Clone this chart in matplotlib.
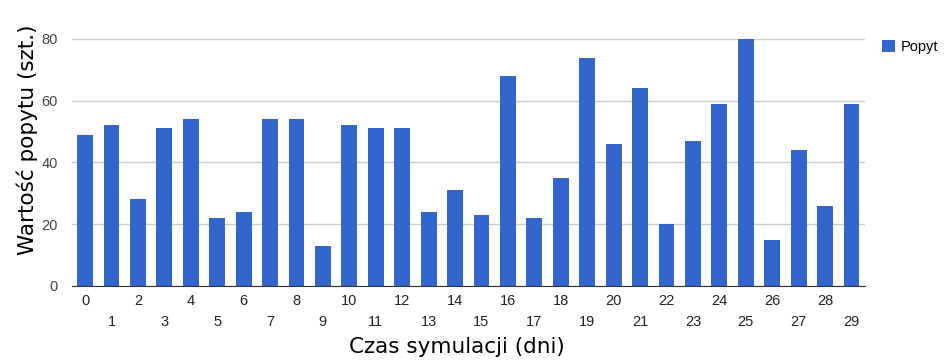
import matplotlib.pyplot as plt
import numpy as np

# dane: popyt w kolejnych dniach symulacji
days = list(range(30))
popyt = [49, 52, 28, 51, 54, 22, 24, 54, 54, 13,
         52, 51, 51, 24, 31, 23, 68, 22, 35, 74,
         46, 64, 20, 47, 59, 80, 15, 44, 26, 59]
yticks = [0, 20, 40, 60, 80]

fig = plt.figure(figsize=(9.46, 3.61), dpi=100)
ax = fig.add_axes([0.076, 0.208, 0.838, 0.684])

ax.bar(days, popyt, width=0.6, color='#3366cc', zorder=2, label='Popyt')
ax.set_xlim(-0.5, 29.5)
ax.set_ylim(0, 80)
ax.set_yticks(yticks)
ax.grid(axis='y', color='#cccccc', lw=1, zorder=0)
for s in ['top', 'right', 'left']:
    ax.spines[s].set_visible(False)
ax.spines['bottom'].set_color('#333333')
ax.tick_params(axis='y', length=0, pad=10, labelsize=10.5, labelcolor='#444444')
ax.set_xticks(days)
ax.set_xticklabels([str(d) if d % 2 == 0 else '\n' + str(d) for d in days])
ax.tick_params(axis='x', length=0, pad=6, labelsize=10.5, labelcolor='#222222')
for lbl in ax.get_xticklabels() + ax.get_yticklabels():
    lbl.set_family('Liberation Sans')
    lbl.set_linespacing(1.6)

ax.set_ylabel('Wartość popytu (szt.)', fontsize=15.5)
ax.yaxis.set_label_coords(-0.043, 0.59)
ax.set_xlabel('Czas symulacji (dni)', fontsize=15.5)
ax.xaxis.set_label_coords(0.485, -0.205)

ax.legend(loc='upper left', bbox_to_anchor=(1.005, 1.05), frameon=False,
          prop={'family': 'Liberation Sans', 'size': 10.5},
          handlelength=0.9, handleheight=0.9, handletextpad=0.4)

fig.savefig('out.png', dpi=100)
